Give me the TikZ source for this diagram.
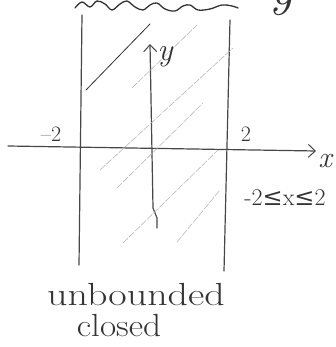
\documentclass[tikz,border=0pt]{standalone}
\usepackage{fontspec}
\newfontfamily\symfont{DejaVu Serif}
\usetikzlibrary{arrows.meta}
\begin{document}
\begin{tikzpicture}[x=1pt,y=-1pt,
 pencil/.style={draw=black!72, line width=1.2pt, line cap=round, line join=round},
 hatch/.style={draw=black!28, line width=0.6pt, dash pattern=on 7pt off 1.5pt},
 darkhatch/.style={draw=black!80, line width=0.8pt, line cap=round},
 lbl/.style={text=black!80, inner sep=0pt},
 barb/.style={-{Straight Barb[length=7pt,width=13pt,line width=1pt]}}
]
\useasboundingbox (0,0) rectangle (336,347);
% boundary lines
\coordinate (L1) at (82,15); \coordinate (L2) at (79,265);
\coordinate (R1) at (230,20); \coordinate (R2) at (224,271);
\draw[pencil] (L1) -- (L2);
\draw[pencil] (R1) -- (R2);
% axes
\coordinate (xs) at (8,146); \coordinate (xe) at (316,151);
\draw[pencil, barb] (xs) -- (xe);
\coordinate (ys) at (157,228); \coordinate (yk1) at (157,218);
\coordinate (yk2) at (153,208); \coordinate (ye) at (150,44);
\draw[pencil, barb] (ys) -- (yk1) -- (yk2) -- (ye);
% hatching
\coordinate (h1a) at (86,90);   \coordinate (h1b) at (150,24);
\coordinate (h2a) at (132,88);  \coordinate (h2b) at (197,25);
\coordinate (h3a) at (100,170); \coordinate (h3b) at (233,48);
\coordinate (h4a) at (117,188); \coordinate (h4b) at (203,103);
\coordinate (h5a) at (123,243); \coordinate (h5b) at (218,150);
\coordinate (h6a) at (177,242); \coordinate (h6b) at (220,190);
\draw[darkhatch] (h1a) -- (h1b);
\draw[hatch] (h2a) -- (h2b);
\draw[hatch] (h3a) -- (h3b);
\draw[hatch] (h4a) -- (h4b);
\draw[hatch] (h5a) -- (h5b);
\draw[hatch] (h6a) -- (h6b);
% wavy line at top
\draw[pencil, draw=black!80, line width=1.3pt] plot[smooth, tension=0.6] coordinates {(75,8) (82,2) (90,7) (97,1) (105,4) (112,10) (120,4) (127,1) (135,7) (143,10) (150,5) (157,3) (165,9) (175,11) (183,6) (190,5) (198,10) (210,9) (222,5) (232,6) (238,8)};
% labels
\node[lbl, font=\fontsize{55}{55}\selectfont\itshape, anchor=base] (ytop) at (282,5) {y};
\node[lbl, font=\fontsize{22}{22}\selectfont] (m2) at (51,134) {–2};
\node[lbl, font=\fontsize{22}{22}\selectfont] (p2) at (246,134) {2};
\node[lbl, font=\fontsize{30}{30}\selectfont\itshape] (xl) at (325,161) {x};
\node[lbl, font=\fontsize{32}{32}\selectfont\itshape] (yl) at (165,57) {y};
\node[lbl, font=\fontsize{24}{24}\selectfont] (ineq) at (285,198) {-2{\symfont≤}x{\symfont≤}2};
\node[lbl, font=\fontsize{32}{32}\selectfont, anchor=base] (ub) at (136,305) {\scalebox{1.25}[1]{unbounded}};
\node[lbl, font=\fontsize{32}{32}\selectfont, anchor=base] (cl) at (119,336) {\scalebox{1.1}[1]{closed}};
\end{tikzpicture}
\end{document}
